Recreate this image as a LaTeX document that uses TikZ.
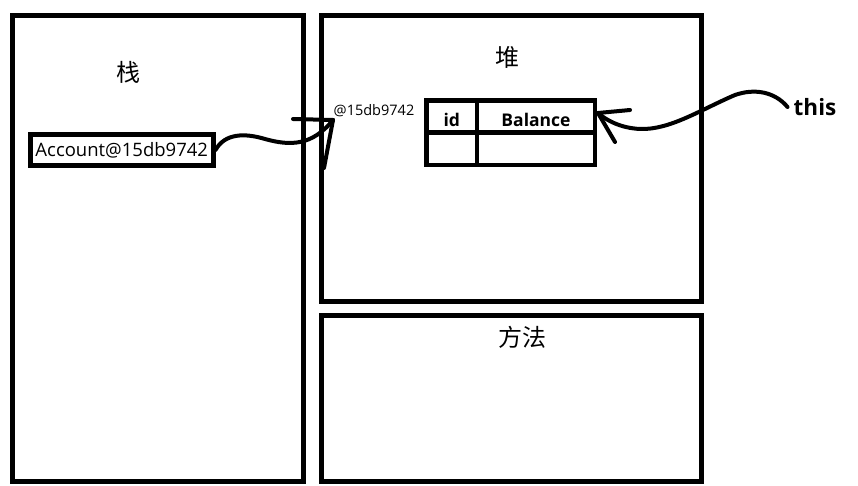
\documentclass[tikz,border=0pt]{standalone}
\usepackage{fontspec}
\setmainfont{Open Sans}
\newfontfamily\cjk{Noto Sans CJK SC}
\begin{document}
\begin{tikzpicture}[x=1pt,y=-1pt,
  area/.style={draw, line width=5pt, inner sep=0pt},
  cell/.style={draw, line width=4.5pt, inner sep=0pt},
  head/.style={cell, text height=20pt, font=\bfseries\fontsize{17.5}{17.5}\selectfont},
  title/.style={font=\cjk\fontsize{24}{24}\selectfont},
  wire/.style={line width=4pt, line cap=round, line join=round}]
\useasboundingbox (0,0) rectangle (858,486);
\node[area, minimum width=291pt, minimum height=466pt] (stack) at (158,248.5){};
\node[area, minimum width=380pt, minimum height=286pt] (heap) at (511,158.5){};
\node[area, minimum width=380pt, minimum height=166pt] (method) at (511,398.5){};
\node[title] (stacklbl) at (128,72){栈};
\node[title] (heaplbl) at (507,57){堆};
\node[title] (methodlbl) at (522,337){方法};
\node[area, minimum width=182.5pt, minimum height=31pt, font=\fontsize{18.5}{18.5}\selectfont] (acc) at (121.75,150){Account@15db9742};
\node[font=\fontsize{14.5}{14.5}\selectfont] (addr) at (374,111){@15db9742};
\node[head, minimum width=50.5pt, minimum height=32pt] (idcell) at (451.75,116.5){id};
\node[head, minimum width=118pt, minimum height=32pt] (balcell) at (536,116.5){Balance};
\node[cell, minimum width=50.5pt, minimum height=32.5pt] (idval) at (451.75,148.75){};
\node[cell, minimum width=118pt, minimum height=32.5pt] (balval) at (536,148.75){};
\node[font=\bfseries\fontsize{22.5}{22.5}\selectfont, inner sep=6pt] (thislbl) at (815,107){this};
\coordinate (refTip) at (333,120);
\coordinate (objTip) at (598,113);
\draw[wire](acc.east) .. controls (225,133) and (245,133) .. (265,139) .. controls (290,146) and (312,146) .. (refTip);
\draw[wire](refTip) -- ++(-40,-1);
\draw[wire](refTip) -- ++(-9,48);
\draw[wire](thislbl.west) .. controls (775,92) and (755,88) .. (735,95) .. controls (700,110) and (670,130) .. (640,129) .. controls (620,128) and (606,120) .. (objTip);
\draw[wire](objTip) -- ++(32,-3);
\draw[wire](objTip) -- ++(17,29);
\end{tikzpicture}
\end{document}
